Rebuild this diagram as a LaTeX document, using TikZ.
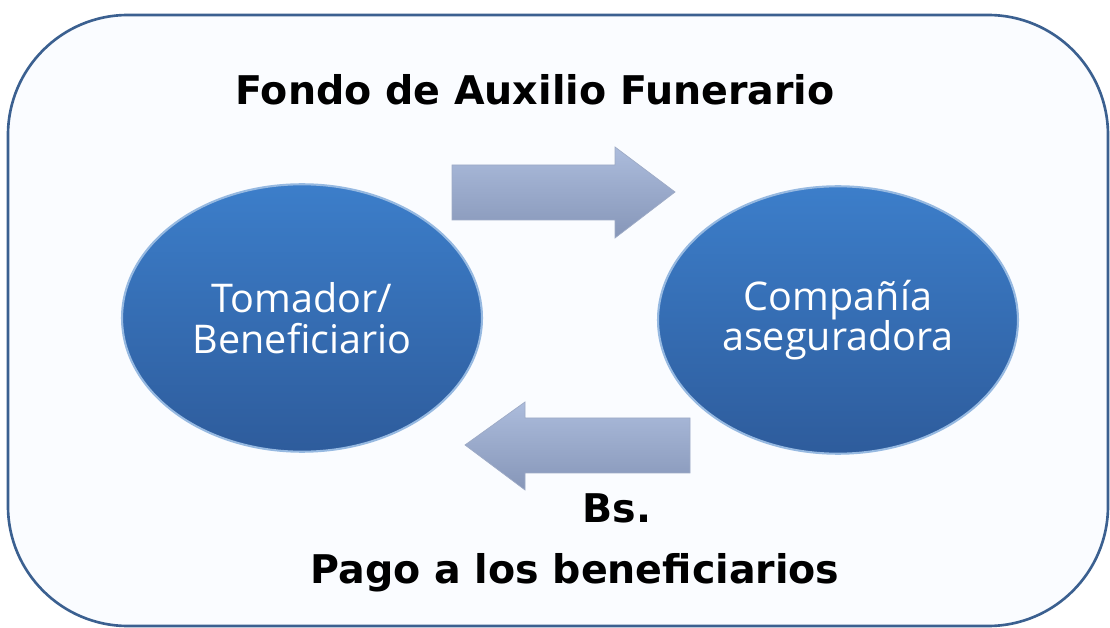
\documentclass[tikz,border=0pt]{standalone}
\usepackage{fontspec}
\setmainfont{DejaVu Sans}
\newfontfamily\circlefont{Open Sans}
\usetikzlibrary{shapes.geometric, positioning}

\definecolor{frameblue}{RGB}{59,96,144}
\definecolor{paleback}{RGB}{250,252,255}
\definecolor{circletop}{RGB}{60,126,202}
\definecolor{circlebot}{RGB}{46,92,156}
\definecolor{circlerim}{RGB}{150,185,225}
\definecolor{arrowtop}{RGB}{172,188,220}
\definecolor{arrowbot}{RGB}{134,150,184}

\begin{document}
\begin{tikzpicture}[
    x=0.02cm, y=-0.02cm,
    % Styles
    party/.style={
        ellipse,
        draw=circlerim,
        line width=1.2pt,
        top color=circletop,
        bottom color=circlebot,
        minimum width=7.2cm,
        minimum height=5.35cm,
        align=center,
        text=white,
        font=\circlefont\fontsize{22.5}{23}\selectfont
    },
    flow/.style={
        draw=arrowbot!80!white,
        line width=0.4pt,
        top color=arrowtop,
        bottom color=arrowbot
    },
    caption/.style={font=\bfseries\fontsize{22.5}{26}\selectfont}
]

    % --- Frame ---
    \useasboundingbox (0,0) rectangle (1110,628);
    \draw[frameblue, line width=1.5pt, fill=paleback, rounded corners=2.4cm]
        (8,15) rectangle (1108,626);

    % --- Title ---
    \node[caption] (title) at (535,90) {Fondo de Auxilio Funerario};

    % --- Parties ---
    \node[party] (tomador) at (302,318) {Tomador/\\Beneficiario};
    \node[party] (compania) at (838,320) {Compañía\\aseguradora};

    % --- Arrows ---
    \draw[flow] (452,165) -- (615,165) -- (615,147) -- (675,192)
        -- (615,238) -- (615,220) -- (452,220) -- cycle;
    \draw[flow] (690,418) -- (525,418) -- (525,402) -- (465,445)
        -- (525,490) -- (525,473) -- (690,473) -- cycle;

    % --- Labels ---
    \node[caption] (bs) at (617,508) {Bs.};
    \node[caption] (pago) at (575,573) {Pago a los beneficiarios};

\end{tikzpicture}
\end{document}
